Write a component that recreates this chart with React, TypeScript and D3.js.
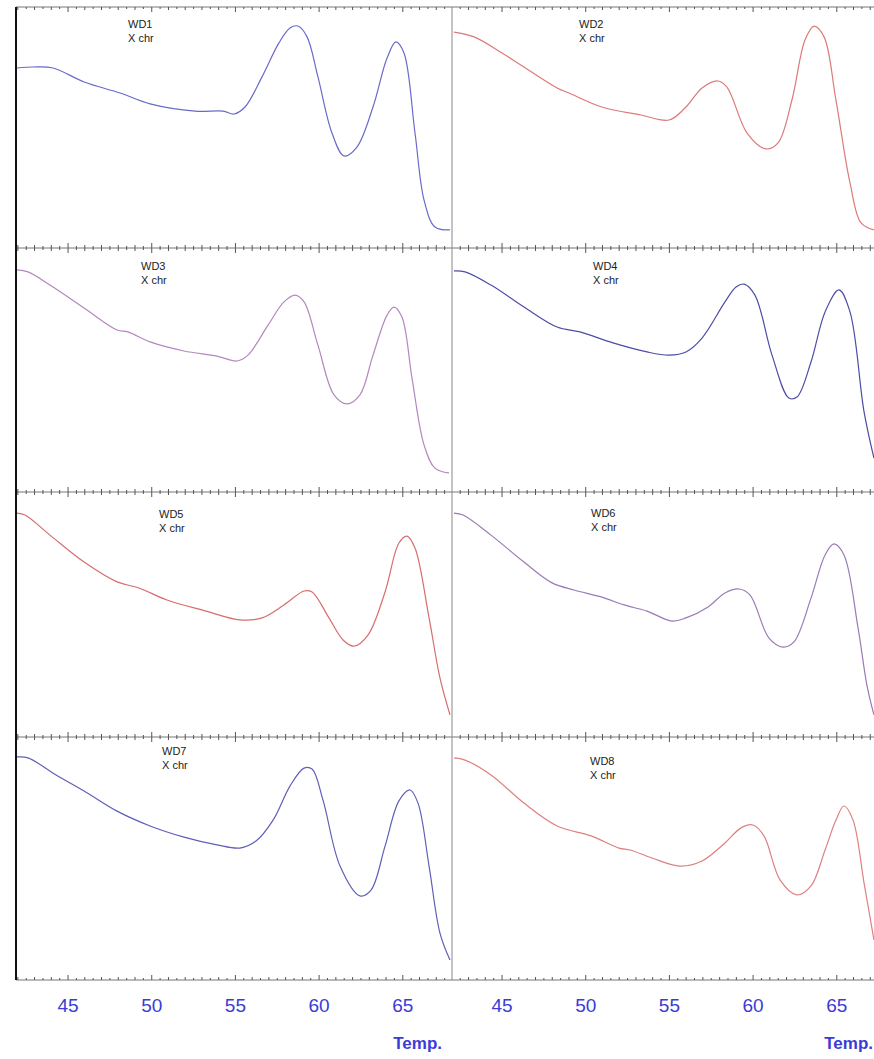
import React from "react";
import * as d3 from "d3";

// ---- data (temperature °C, -dF/dT in arbitrary units 0-100) ----
const panelNames = ["WD1", "WD2", "WD3", "WD4", "WD5", "WD6", "WD7", "WD8"];
const subLabel = "X chr";
const tickLabels = [45, 50, 55, 60, 65];
const axisTitle = "Temp.";

const wd1T = [41.94, 42.91, 44.1, 45.96, 48.11, 49.9, 52.59, 54.26, 54.92, 55.57, 56.59, 57.6, 58.26, 58.74, 59.28, 59.93, 60.77, 61.49, 62.26, 63.22, 64.06, 64.59, 65.07, 65.73, 66.27, 66.92, 67.82];
const wd1V = [74.7, 75.1, 74.7, 68.9, 64.3, 59.8, 56.8, 56.8, 55.6, 58.5, 71.0, 85.1, 91.3, 92.1, 87.6, 71.0, 47.7, 38.2, 41.9, 58.5, 78.8, 85.5, 80.9, 47.7, 19.9, 8.7, 7.5];

const wd2T = [42.13, 43.33, 45.0, 46.31, 48.29, 49.0, 50.97, 53.3, 54.98, 55.99, 56.95, 57.9, 58.44, 59.64, 60.77, 61.49, 62.32, 63.1, 63.64, 64.24, 64.95, 65.79, 66.45, 67.22];
const wd2V = [89.6, 87.6, 80.9, 75.1, 66.4, 64.3, 58.5, 55.2, 53.1, 58.5, 66.4, 69.3, 66.8, 47.7, 41.1, 43.6, 61.4, 86.3, 92.1, 87.6, 61.4, 27.0, 10.4, 7.5];

const wd3T = [41.95, 42.61, 43.92, 45.96, 47.93, 48.58, 49.9, 51.93, 53.9, 55.1, 55.75, 56.95, 57.9, 58.56, 59.1, 59.93, 60.89, 61.67, 62.44, 63.22, 64.06, 64.47, 64.95, 65.55, 66.27, 66.92, 67.76];
const wd3V = [91.0, 90.2, 84.8, 75.4, 66.4, 65.6, 61.5, 57.8, 55.7, 53.7, 56.1, 68.4, 77.9, 80.7, 77.9, 60.2, 39.8, 36.1, 39.8, 56.1, 72.5, 75.8, 71.7, 46.7, 19.3, 9.8, 7.8];

const wd4T = [42.13, 42.79, 44.34, 46.31, 48.29, 49.66, 51.63, 53.66, 54.98, 55.99, 56.95, 58.32, 58.98, 59.46, 60.11, 61.13, 62.14, 62.62, 63.46, 64.3, 65.13, 65.79, 66.63, 67.22];
const wd4V = [90.6, 90.2, 84.8, 75.8, 67.6, 65.6, 61.1, 57.4, 56.1, 57.4, 63.1, 77.9, 84.0, 85.2, 80.7, 56.1, 38.5, 38.9, 53.3, 73.8, 82.8, 73.8, 32.8, 13.9];

const wd5T = [41.95, 42.43, 43.92, 45.96, 47.93, 49.24, 50.91, 53.24, 55.27, 56.59, 57.9, 59.1, 59.58, 60.59, 61.43, 62.08, 62.92, 63.94, 64.77, 65.25, 65.73, 66.57, 67.22, 67.82];
const wd5V = [91.4, 90.6, 82.4, 71.4, 63.3, 60.8, 55.9, 51.4, 47.8, 48.6, 53.9, 59.6, 59.2, 48.6, 39.6, 37.1, 41.6, 59.2, 79.2, 82.0, 77.1, 48.6, 24.1, 9.0];

const wd6T = [42.13, 42.67, 44.34, 46.31, 47.99, 49.3, 50.97, 52.29, 53.66, 55.16, 55.99, 57.31, 58.32, 59.16, 59.81, 60.95, 61.79, 62.44, 63.46, 64.3, 64.83, 65.43, 66.27, 66.8, 67.22];
const wd6V = [91.4, 90.6, 82.4, 71.4, 62.9, 60.0, 57.1, 53.9, 51.4, 47.3, 48.6, 53.1, 58.8, 60.4, 58.0, 40.4, 36.7, 38.8, 56.7, 74.3, 78.8, 74.3, 44.5, 21.2, 9.0];

const wd7T = [41.95, 42.61, 44.28, 45.96, 47.93, 49.9, 51.93, 53.9, 55.27, 56.23, 57.25, 58.26, 59.1, 59.58, 60.23, 61.25, 62.44, 63.1, 63.94, 64.77, 65.43, 65.91, 66.57, 67.22, 67.82];
const wd7V = [91.8, 91.4, 84.4, 77.8, 69.5, 63.4, 58.8, 55.6, 54.3, 57.2, 65.8, 79.8, 87.2, 86.8, 74.1, 46.9, 34.6, 37.0, 55.1, 73.7, 78.2, 72.8, 46.9, 19.3, 8.2];

const wd8T = [42.13, 42.79, 44.34, 46.31, 48.29, 50.32, 51.99, 52.65, 53.96, 55.63, 56.95, 58.32, 59.28, 59.99, 60.65, 61.61, 62.62, 63.46, 64.3, 64.95, 65.43, 65.97, 66.63, 67.22];
const wd8V = [91.4, 90.5, 84.4, 72.8, 63.4, 59.3, 54.3, 53.5, 50.2, 46.9, 49.0, 56.4, 62.6, 63.8, 59.3, 41.2, 35.0, 38.7, 53.5, 65.8, 71.6, 65.8, 39.9, 16.5];

const seriesT = [wd1T, wd2T, wd3T, wd4T, wd5T, wd6T, wd7T, wd8T];
const seriesV = [wd1V, wd2V, wd3V, wd4V, wd5V, wd6V, wd7V, wd8V];
const seriesColors = ["#6a6acb", "#dc7a7a", "#b388be", "#4d4da6", "#d96c6c", "#9a7bb8", "#5f5fb8", "#de8080"];

// ---- layout ----
const W = 874;
const H = 1059;
const rowLines = [7, 248, 492, 737, 980];
const colX = [16, 452];
const panelW = 436;
const domains: [number, number][] = [
  [41.89, 67.94],
  [42.01, 68.06],
];
// label offsets within panel (px from panel left / row top)
const labelDx = [112, 127, 125, 141, 143, 139, 146, 138];
const labelDy = [18, 18, 19, 19, 23, 22, 15, 25];

export default function App() {
  const xScales = colX.map((x0, i) =>
    d3.scaleLinear().domain(domains[i]).range([x0, x0 + panelW])
  );
  const yScales = [0, 1, 2, 3].map((r) =>
    d3.scaleLinear().domain([0, 100]).range([rowLines[r + 1], rowLines[r]])
  );

  const ticks: { v: number; kind: number }[] = [];
  for (let t = 42; t <= 68.01; t += 0.5) {
    const kind = Math.abs(t % 5) < 1e-6 ? 2 : Math.abs(t % 1) < 1e-6 ? 1 : 0;
    ticks.push({ v: t, kind });
  }
  const tickLen = [2, 3, 5];

  return (
    <svg
      width={W}
      height={H}
      style={{ position: "absolute", left: 0, top: 0, background: "#fff" }}
      fontFamily="Arial, 'Liberation Sans', sans-serif"
    >
      <defs>
        <clipPath id="clipAll">
          <rect x={0} y={0} width={W} height={H} />
        </clipPath>
      </defs>
      <rect x={0} y={0} width={W} height={H} fill="#fff" />

      {/* horizontal axes with ticks */}
      {rowLines.map((y, ri) => (
        <g key={"ax" + ri}>
          <line x1={colX[0]} x2={W} y1={y} y2={y} stroke="#777" strokeWidth={1} />
          {xScales.map((xs, ci) =>
            ticks
              .filter((t) => xs(t.v) > colX[ci] + 1 && xs(t.v) < Math.min(colX[ci] + panelW, W))
              .map((t, k) => {
                const len = tickLen[t.kind];
                const up = ri === 0 ? 0 : len;
                const down = ri === rowLines.length - 1 ? 0 : len;
                return (
                  <line
                    key={ci + "-" + k}
                    x1={xs(t.v)}
                    x2={xs(t.v)}
                    y1={y - up}
                    y2={y + down}
                    stroke="#555"
                    strokeWidth={1}
                  />
                );
              })
          )}
        </g>
      ))}

      {/* vertical separators */}
      <line x1={colX[0]} x2={colX[0]} y1={rowLines[0]} y2={rowLines[4]} stroke="#111" strokeWidth={2} />
      <line x1={colX[1]} x2={colX[1]} y1={rowLines[0]} y2={rowLines[4]} stroke="#888" strokeWidth={1} />

      {/* curves */}
      {panelNames.map((name, i) => {
        const col = i % 2;
        const row = Math.floor(i / 2);
        const xs = xScales[col];
        const ys = yScales[row];
        const pts = seriesT[i].map((t, k) => [t, seriesV[i][k]] as [number, number]);
        const line = d3
          .line<[number, number]>()
          .x((d) => xs(d[0]))
          .y((d) => ys(d[1]))
          .curve(d3.curveCatmullRom.alpha(0.5));
        const x0 = colX[col];
        const y0 = rowLines[row];
        return (
          <g key={name} clipPath="url(#clipAll)">
            <path d={line(pts) || ""} fill="none" stroke={seriesColors[i]} strokeWidth={1.2} />
            <text x={x0 + labelDx[i]} y={y0 + labelDy[i]} fontSize={11} fill="#222" dominantBaseline="middle">
              {name}
            </text>
            <text x={x0 + labelDx[i]} y={y0 + labelDy[i] + 14} fontSize={11} fill="#222" dominantBaseline="middle">
              {subLabel}
            </text>
          </g>
        );
      })}

      {/* tick labels */}
      {xScales.map((xs, ci) => (
        <g key={"tl" + ci}>
          {tickLabels.map((v) => (
            <text
              key={v}
              x={xs(v)}
              y={1007}
              fontSize={19}
              fill="#3b3bd6"
              textAnchor="middle"
              dominantBaseline="middle"
            >
              {v}
            </text>
          ))}
          <text
            x={Math.min(colX[ci] + panelW - 10, W - 1)}
            y={1045}
            fontSize={17}
            fontWeight="bold"
            fill="#3b3bd6"
            textAnchor="end"
            dominantBaseline="middle"
          >
            {axisTitle}
          </text>
        </g>
      ))}
    </svg>
  );
}
